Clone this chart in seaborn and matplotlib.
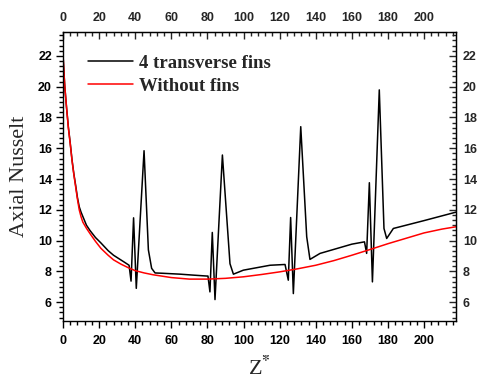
import matplotlib
matplotlib.use("Agg")
import matplotlib.pyplot as plt
import seaborn as sns
import pandas as pd
from matplotlib.ticker import MultipleLocator, AutoMinorLocator

# axial position Z* and Nusselt values
z_fins = [0, 0.5, 1, 2, 3, 4, 5, 6, 7, 8, 9, 10, 13, 15, 18, 21, 25, 28, 32,
          34, 36.6, 37.7, 39.1, 40.6, 44.9, 47.3, 49.1, 51, 55, 65, 72, 79.6,
          80.3, 81.4, 82.7, 84.2, 88.3, 92.5, 94.4, 99.9, 114.7, 123, 124.8,
          126.1, 127.6, 131.7, 135, 136.8, 142.4, 160, 167, 168.2, 169.7,
          171.4, 175.2, 177.8, 179.3, 183, 186.7, 200, 217.7]
nu_fins = [22.1, 21.0, 20.0, 18.6, 17.35, 16.35, 15.25, 14.35, 13.6, 12.8,
           12.2, 11.85, 11.0, 10.65, 10.2, 9.85, 9.35, 9.05, 8.75, 8.6, 8.4,
           7.37, 11.48, 6.9, 15.84, 9.4, 8.2, 7.9, 7.88, 7.82, 7.76, 7.7, 7.7,
           6.67, 10.53, 6.17, 15.56, 8.5, 7.82, 8.08, 8.4, 8.45, 7.43, 11.5,
           6.56, 17.4, 10.25, 8.78, 9.17, 9.77, 9.92, 9.17, 13.76, 7.32, 19.79,
           10.79, 10.14, 10.79, 10.9, 11.3, 11.85]

z_plain = [0, 0.5, 1, 2, 3, 4, 5, 6, 7, 8, 9, 10, 11, 13, 15, 18, 21, 25, 28,
           32, 36, 40, 45, 50, 60, 70, 80, 90, 100, 110, 120, 130, 140, 150,
           160, 170, 180, 190, 200, 210, 217.7]
nu_plain = [22.1, 21.0, 20.0, 18.6, 17.3, 16.3, 15.2, 14.3, 13.5, 12.7, 12.0,
            11.55, 11.2, 10.8, 10.45, 9.95, 9.5, 9.05, 8.75, 8.48, 8.25, 8.05,
            7.9, 7.78, 7.6, 7.5, 7.5, 7.55, 7.65, 7.8, 7.97, 8.17, 8.4, 8.7,
            9.05, 9.42, 9.8, 10.15, 10.5, 10.75, 10.9]

df_fins = pd.DataFrame({"z": z_fins, "nu": nu_fins})
df_plain = pd.DataFrame({"z": z_plain, "nu": nu_plain})

sns.set_style("ticks")
plt.rcParams["font.family"] = ["Liberation Sans", "DejaVu Sans"]
plt.rcParams["font.weight"] = "bold"
plt.rcParams["mathtext.fontset"] = "stix"

fig = plt.figure(figsize=(4.79, 3.80), dpi=100)
ax = fig.add_axes([0.1315, 0.1553, 0.8205, 0.7605])

sns.lineplot(data=df_fins, x="z", y="nu", color="black", lw=1.1, sort=False,
             estimator=None, ax=ax, label="4 transverse fins")
sns.lineplot(data=df_plain, x="z", y="nu", color="red", lw=1.1, sort=False,
             estimator=None, ax=ax, label="Without fins")

ax.set_xlim(0, 217.7)
ax.set_ylim(4.78, 23.55)

for side in ["top", "right", "left", "bottom"]:
    ax.spines[side].set_visible(True)
    ax.spines[side].set_linewidth(1.0)
    ax.spines[side].set_color("black")

# bottom / left: ticks outside
ax.xaxis.set_major_locator(MultipleLocator(20))
ax.xaxis.set_minor_locator(AutoMinorLocator(5))
ax.yaxis.set_major_locator(MultipleLocator(2))
ax.yaxis.set_minor_locator(AutoMinorLocator(6))
ax.set_yticks(range(6, 23, 2))
ax.tick_params(axis="both", which="both", direction="out", colors="black",
               top=False, right=False, labelsize=9, width=1.0)
ax.tick_params(which="major", length=5)
ax.tick_params(which="minor", length=3)
ax.tick_params(axis="x", pad=5)
ax.tick_params(axis="y", pad=3)

# top / right: mirrored axes with ticks inside
top = ax.secondary_xaxis("top")
top.xaxis.set_major_locator(MultipleLocator(20))
top.xaxis.set_minor_locator(AutoMinorLocator(5))
top.tick_params(which="both", direction="in", labelsize=9, width=1.0, pad=6)
top.tick_params(which="major", length=5)
top.tick_params(which="minor", length=3)

right = ax.secondary_yaxis("right")
right.set_yticks(range(6, 23, 2))
right.yaxis.set_minor_locator(AutoMinorLocator(6))
right.tick_params(which="both", direction="in", labelsize=9, width=1.0, pad=5)
right.tick_params(which="major", length=5)
right.tick_params(which="minor", length=3)

ax.set_xlabel(r"Z$^{*}$", fontsize=16, family="Liberation Serif",
              fontweight="normal", labelpad=7)
ax.set_ylabel("Axial Nusselt", fontsize=16, family="Liberation Serif",
              fontweight="normal", labelpad=6)

leg = ax.legend(loc="upper left", bbox_to_anchor=(0.02, 0.98), frameon=False,
                handlelength=2.4, handletextpad=0.35, labelspacing=0.3,
                prop={"family": "Liberation Serif", "weight": "bold",
                      "size": 13.5})

fig.savefig("out.png", dpi=100)
